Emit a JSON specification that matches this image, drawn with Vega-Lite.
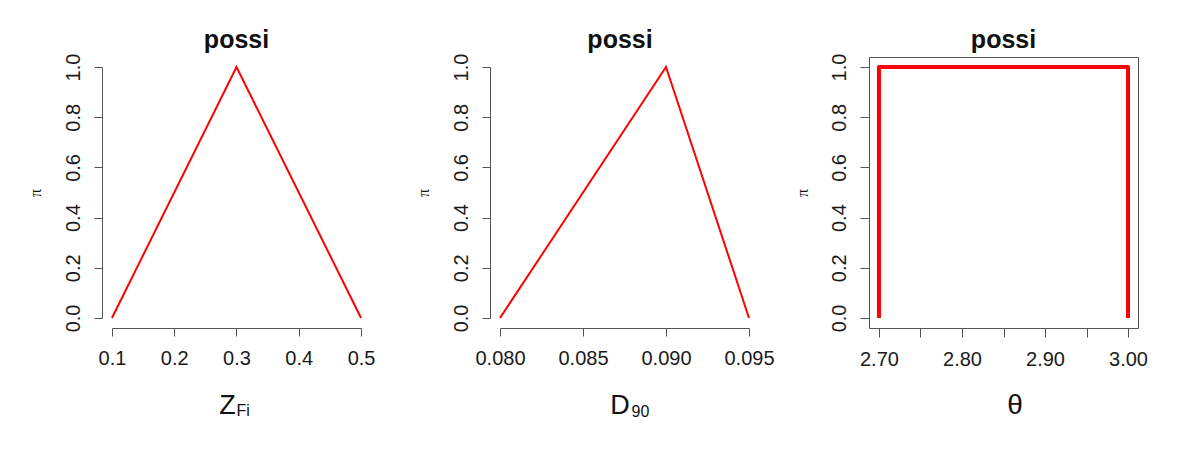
{
  "$schema": "https://vega.github.io/schema/vega-lite/v6.json",
  "background": "white",
  "padding": {"left": 27, "top": 27, "right": 5, "bottom": 5},
  "spacing": 119,
  "bounds": "flush",
  "config": {
    "view": {"stroke": null},
    "axis": {
      "grid": false,
      "labelFont": "Liberation Sans",
      "labelFontSize": 20,
      "labelColor": "#1a1a1a",
      "labelFlush": false,
      "labelOverlap": false,
      "labelPadding": 12,
      "tickSize": 8,
      "tickColor": "#555555",
      "domainColor": "#555555",
      "titleFont": "Liberation Sans",
      "titleFontWeight": "normal",
      "titleColor": "#111111",
      "titleBaseline": "alphabetic",
      "titleAlign": "center"
    },
    "axisY": {
      "labelAngle": -90,
      "labelAlign": "center",
      "labelBaseline": "bottom",
      "labelPadding": 11,
      "titleAngle": -90,
      "titleBaseline": "middle",
      "titleFont": "Liberation Serif",
      "titleFontSize": 16,
      "titleX": -67,
      "titleY": 135.5
    },
    "title": {"font": "Liberation Sans", "fontSize": 25, "fontWeight": "bold", "color": "#111111", "offset": 0.1, "baseline": "alphabetic", "anchor": "middle", "frame": "group"}
  },
  "hconcat": [
    {
      "width": 269,
      "height": 271,
      "title": "possi",
      "data": {"values": [{"i": 1, "x": 0.1, "y": 0}, {"i": 2, "x": 0.3, "y": 1}, {"i": 3, "x": 0.5, "y": 0}]},
      "encoding": {
        "y": {"field": "y", "type": "quantitative", "scale": {"domain": [-0.04, 1.04], "nice": false, "zero": false},
          "axis": {"title": "π", "values": [0, 0.2, 0.4, 0.6, 0.8, 1], "format": ".1f", "domainDash": [0, 10, 251, 1000]}}
      },
      "layer": [
        {
          "mark": {"type": "line", "color": "#ff0000", "strokeWidth": 2},
          "encoding": {
            "x": {"field": "x", "type": "quantitative", "scale": {"domain": [0.084, 0.516], "nice": false, "zero": false},
              "axis": {"title": "Z", "values": [0.1, 0.2, 0.3, 0.4, 0.5], "format": ".1f", "domainDash": [0, 10, 249, 1000], "titleX": 125, "titleY": 85, "titleFontSize": 27}},
            "order": {"field": "i"}
          }
        },
        {
          "mark": {"type": "point", "opacity": 0},
          "encoding": {
            "x": {"field": "x", "type": "quantitative", "scale": {"domain": [0.084, 0.516], "nice": false, "zero": false},
              "axis": {"orient": "bottom", "title": "Fi", "labels": false, "ticks": false, "domain": false, "titleX": 134, "titleY": 87, "titleFontSize": 16, "titleAlign": "left"}}
          }
        }
      ],
      "resolve": {"axis": {"x": "independent"}}
    },
    {
      "width": 260,
      "height": 271,
      "title": "possi",
      "data": {"values": [{"i": 1, "x": 0.080, "y": 0}, {"i": 2, "x": 0.090, "y": 1}, {"i": 3, "x": 0.095, "y": 0}]},
      "encoding": {
        "y": {"field": "y", "type": "quantitative", "scale": {"domain": [-0.04, 1.04], "nice": false, "zero": false},
          "axis": {"title": "π", "values": [0, 0.2, 0.4, 0.6, 0.8, 1], "format": ".1f", "domainDash": [0, 10, 251, 1000]}}
      },
      "layer": [
        {
          "mark": {"type": "line", "color": "#ff0000", "strokeWidth": 2},
          "encoding": {
            "x": {"field": "x", "type": "quantitative", "scale": {"domain": [0.0793976, 0.0950602], "nice": false, "zero": false},
              "axis": {"title": "D", "values": [0.080, 0.085, 0.090, 0.095], "format": ".3f", "domainDash": [0, 10, 249, 1000], "titleX": 129.5, "titleY": 85, "titleFontSize": 27}},
            "order": {"field": "i"}
          }
        },
        {
          "mark": {"type": "point", "opacity": 0},
          "encoding": {
            "x": {"field": "x", "type": "quantitative", "scale": {"domain": [0.0793976, 0.0950602], "nice": false, "zero": false},
              "axis": {"orient": "bottom", "title": "90", "labels": false, "ticks": false, "domain": false, "titleX": 141, "titleY": 88, "titleFontSize": 16, "titleAlign": "left"}}
          }
        }
      ],
      "resolve": {"axis": {"x": "independent"}}
    },
    {
      "width": 269,
      "height": 271,
      "title": "possi",
      "view": {"stroke": "#555555", "strokeWidth": 1},
      "data": {"values": [{"i": 1, "x": 2.70, "y": 0}, {"i": 2, "x": 2.70, "y": 1}, {"i": 3, "x": 3.00, "y": 1}, {"i": 4, "x": 3.00, "y": 0}]},
      "mark": {"type": "line", "color": "#ff0000", "strokeWidth": 4, "strokeJoin": "round"},
      "encoding": {
        "x": {"field": "x", "type": "quantitative", "scale": {"domain": [2.688, 3.012], "nice": false, "zero": false},
          "axis": {"title": "θ", "values": [2.7, 2.75, 2.8, 2.85, 2.9, 2.95, 3.0], "labelExpr": "round(datum.value * 100) % 10 == 0 ? format(datum.value, '.2f') : ''", "domain": false, "tickSize": 9, "titleX": 145.5, "titleY": 85, "titleFontSize": 28}},
        "y": {"field": "y", "type": "quantitative", "scale": {"domain": [-0.04, 1.04], "nice": false, "zero": false},
          "axis": {"title": "π", "values": [0, 0.2, 0.4, 0.6, 0.8, 1], "format": ".1f", "domain": false, "tickSize": 9}},
        "order": {"field": "i"}
      }
    }
  ]
}
